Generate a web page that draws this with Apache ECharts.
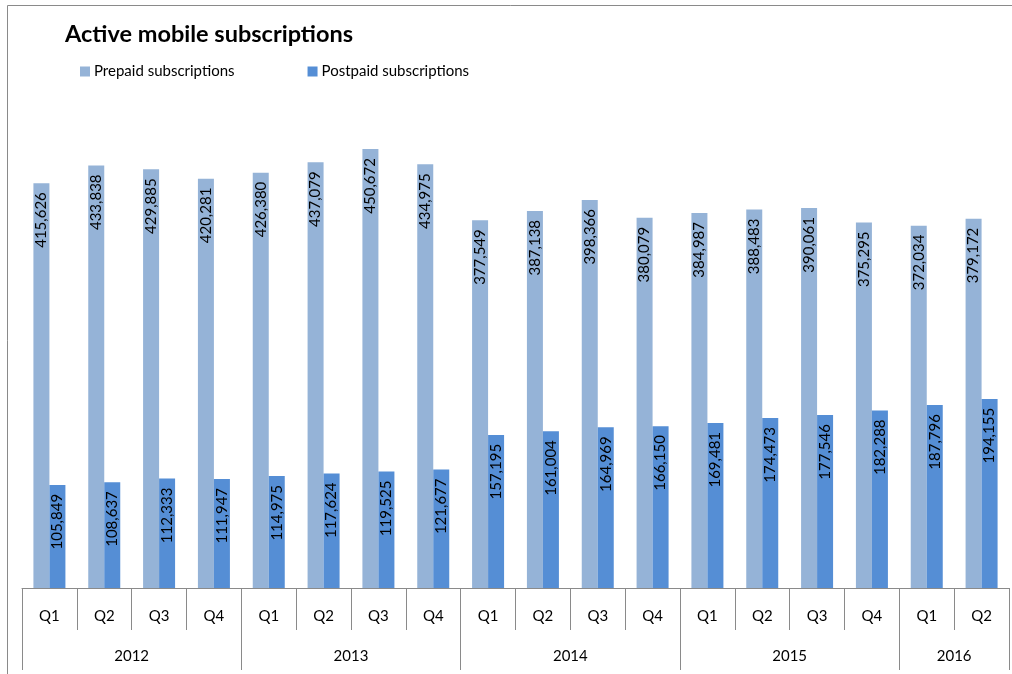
<!DOCTYPE html>
<html>
<head>
<meta charset="utf-8">
<script src="https://cdn.jsdelivr.net/npm/echarts@6/dist/echarts.min.js"></script>
<style>
  html, body { margin: 0; padding: 0; background: #fff; }
  #chart { width: 1012px; height: 674px; }
</style>
</head>
<body>
<div id="chart"></div>
<script>
// Quarterly active mobile subscriptions, 2012 Q1 – 2016 Q2
const quarters = ['Q1','Q2','Q3','Q4','Q1','Q2','Q3','Q4','Q1','Q2','Q3','Q4','Q1','Q2','Q3','Q4','Q1','Q2'];
const years = ['2012', '2013', '2014', '2015', '2016'];
const yearCenters = [2, 6, 10, 14, 17];
const yearBounds = [0, 4, 8, 12, 16, 18];
const prepaid = [415626, 433838, 429885, 420281, 426380, 437079, 450672, 434975, 377549, 387138, 398366, 380079, 384987, 388483, 390061, 375295, 372034, 379172];
const postpaid = [105849, 108637, 112333, 111947, 114975, 117624, 119525, 121677, 157195, 161004, 164969, 166150, 169481, 174473, 177546, 182288, 187796, 194155];

const FONT = 'Lato, "Open Sans", sans-serif';
const fmt = v => Number(v).toLocaleString('en-US');

const barLabel = {
  show: true,
  position: 'insideTop',
  rotate: 90,
  align: 'right',
  verticalAlign: 'middle',
  distance: 9,
  color: '#000',
  fontFamily: FONT,
  fontSize: 15,
  formatter: p => fmt(p.value)
};

const chart = echarts.init(document.getElementById('chart'), null, { renderer: 'canvas' });
chart.setOption({
  animation: false,
  backgroundColor: '#fff',
  title: {
    text: 'Active mobile subscriptions',
    left: 60,
    top: 17,
    textStyle: { fontFamily: FONT, fontSize: 23.5, fontWeight: 'bold', color: '#000' }
  },
  legend: {
    left: 75,
    top: 59,
    itemWidth: 10,
    itemHeight: 10,
    itemGap: 73,
    icon: 'rect',
    textStyle: { fontFamily: FONT, fontSize: 15, color: '#000', padding: [0, 0, 0, -1] },
    data: ['Prepaid subscriptions', 'Postpaid subscriptions']
  },
  graphic: [{
    type: 'rect',
    shape: { x: 7.5, y: 5.5, width: 1100, height: 800 },
    style: { fill: 'none', stroke: '#8a8a8a', lineWidth: 1 },
    silent: true
  }],
  grid: { left: 22, right: 3, top: 101, bottom: 86, containLabel: false },
  xAxis: [{
    type: 'category',
    data: quarters,
    position: 'bottom',
    axisLine: { lineStyle: { color: '#8a8a8a', width: 1 } },
    axisTick: { show: true, interval: 0, length: 42, lineStyle: { color: '#8a8a8a' } },
    axisLabel: { interval: 0, margin: 21, fontFamily: FONT, fontSize: 15, color: '#000' }
  }, {
    type: 'value',
    min: 0,
    max: 18,
    position: 'bottom',
    offset: 42,
    axisLine: { show: false },
    splitLine: { show: false },
    axisTick: { show: true, length: 40, customValues: yearBounds, lineStyle: { color: '#8a8a8a' } },
    axisLabel: {
      customValues: yearCenters,
      margin: 19,
      fontFamily: FONT,
      fontSize: 15,
      color: '#000',
      formatter: v => years[yearCenters.indexOf(v)]
    }
  }],
  yAxis: {
    type: 'value',
    min: 0,
    max: 500000,
    show: false,
    splitLine: { show: false }
  },
  series: [{
    name: 'Prepaid subscriptions',
    type: 'bar',
    data: prepaid,
    barWidth: 16,
    barGap: '0%',
    itemStyle: { color: '#95b3d7' },
    label: barLabel
  }, {
    name: 'Postpaid subscriptions',
    type: 'bar',
    data: postpaid,
    barWidth: 16,
    barGap: '0%',
    itemStyle: { color: '#558ed5' },
    label: barLabel
  }]
});
</script>
</body>
</html>
